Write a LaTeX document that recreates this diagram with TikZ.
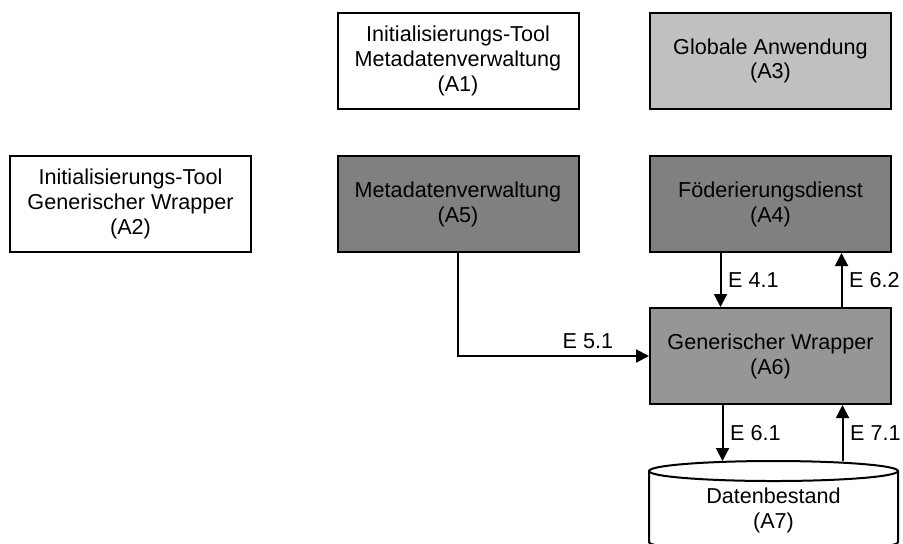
\documentclass[tikz,border=0pt]{standalone}
\usepackage{fontspec}
\setmainfont{Liberation Sans}
\usetikzlibrary{arrows.meta}

\definecolor{lightgrey}{RGB}{192,192,192}
\definecolor{midgrey}{RGB}{150,150,150}
\definecolor{darkgrey}{RGB}{128,128,128}

\begin{document}
\begin{tikzpicture}
    [x=0.5pt, y=-0.5pt,
    font=\fontsize{10.8}{12.4}\selectfont,
    every node/.style={align=center},
    box/.style={draw, fill=white, line width=1pt, minimum width=120.5pt,
        minimum height=48pt, inner sep=0pt},
    flow/.style={draw, line width=1pt, -{Triangle[length=6.5pt,width=6.5pt]}}
    ]
    \useasboundingbox (0,0) rectangle (903,543);

    % tools and components
    \node (A1) [box] at (458,61) {Initialisierungs-Tool\\Metadatenverwaltung\\(A1)};
    \node (A3) [box, fill=lightgrey] at (770.5,61) {Globale Anwendung\\(A3)};
    \node (A2) [box] at (130.5,204) {Initialisierungs-Tool\\Generischer Wrapper\\(A2)};
    \node (A5) [box, fill=darkgrey] at (458,204) {Metadatenverwaltung\\(A5)};
    \node (A4) [box, fill=darkgrey] at (770.5,204) {Föderierungsdienst\\(A4)};
    \node (A6) [box, fill=midgrey] at (770.5,356) {Generischer Wrapper\\(A6)};

    % data store
    \draw [line width=1pt, fill=white] (649,471) -- (649,542)
        arc [start angle=180, end angle=0, x radius=124.5, y radius=10] -- (898,471);
    \draw [line width=1pt, fill=white] (773.5,471) ellipse [x radius=124.5, y radius=10];
    \node (A7) at (773.5,510) {Datenbestand\\(A7)};
    \coordinate (dbtop) at (773.5,461);

    % interfaces
    \draw [flow] (A5.south) |- node [above, pos=0.84] {E 5.1} (A6.west);
    \draw [flow] ([xshift=-25pt]A4.south) -- node [right] {E 4.1} ([xshift=-25pt]A6.north);
    \draw [flow] ([xshift=35.5pt]A6.north) -- node [right] {E 6.2} ([xshift=35.5pt]A4.south);
    \draw [flow] ([xshift=-24pt]A6.south) -- node [right] {E 6.1} ([xshift=-24pt]A6.south |- dbtop);
    \draw [flow] ([xshift=36pt]A6.south |- dbtop) -- node [right] {E 7.1} ([xshift=36pt]A6.south);
\end{tikzpicture}
\end{document}
